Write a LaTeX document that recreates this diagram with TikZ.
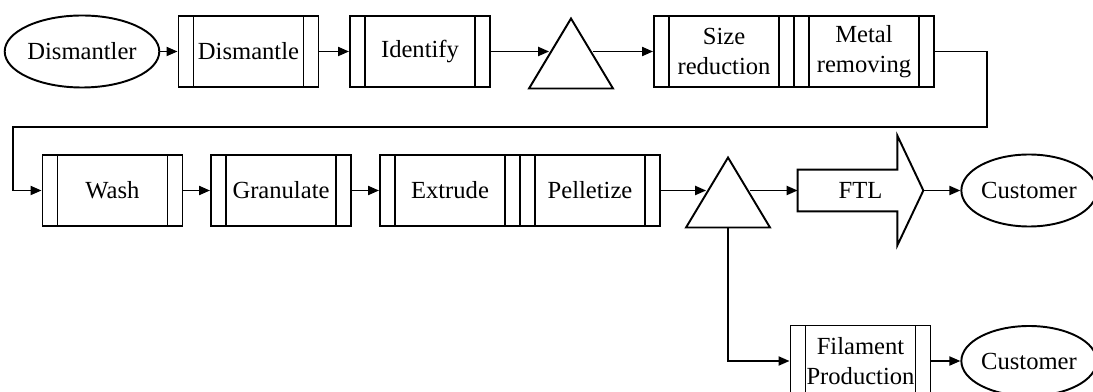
\documentclass[tikz,border=0pt]{standalone}
\usepackage{fontspec}
\setmainfont{Liberation Serif}
\usetikzlibrary{shapes.geometric,arrows.meta}

\tikzset{
  procbox/.style={draw, line width=1.1pt, minimum width=28mm, minimum height=14.2mm, inner sep=0pt, align=center,
    path picture={\draw[line width=1.1pt]
      ([xshift=3mm]path picture bounding box.north west) -- ([xshift=3mm]path picture bounding box.south west)
      ([xshift=-3mm]path picture bounding box.north east) -- ([xshift=-3mm]path picture bounding box.south east);}},
  acteur/.style={draw, ellipse, line width=1.1pt, minimum width=28mm, minimum height=14.4mm, inner sep=0pt},
  stock/.style={draw, isosceles triangle, isosceles triangle stretches=true, shape border rotate=90,
    line width=1.1pt, minimum width=16.8mm, minimum height=14mm, inner sep=0pt, anchor=apex},
  fleche/.style={->, >={Triangle[length=2.2mm,width=1.8mm]}, line width=1.1pt}
}

\begin{document}
\begin{tikzpicture}[x=0.2mm, y=-0.2mm, font=\fontsize{14}{17}\selectfont]
            \useasboundingbox (0,0) rectangle (1093,392);

            % Ligne 1
            \node[acteur] (dismantler) at (82,51.5) {Dismantler};
            \node[procbox] (dismantle) at (248.5,51.5) {Dismantle};
            \node[procbox] (identify) at (420,51.5) {Identify};
            \node[stock] (tri1) at (571,16) {};
            \node[procbox] (size) at (724,51.5) {Size\\reduction};
            \node[procbox] (metal) at (864,51.5) {Metal\\removing};

            % Ligne 2
            \node[procbox] (wash) at (112.5,190.5) {Wash};
            \node[procbox] (granulate) at (281,190.5) {Granulate};
            \node[procbox] (extrude) at (450,190.5) {Extrude};
            \node[procbox] (pelletize) at (590,190.5) {Pelletize};
            \node[stock] (tri2) at (728,155) {};
            \node[minimum width=25mm, minimum height=8.2mm, inner sep=0pt] (ftl) at (860.5,190.5) {FTL};
            \node[acteur, minimum width=25.6mm] (cust1) at (1029,190.5) {Customer};

            % Ligne 3
            \node[procbox] (filament) at (860.5,361) {Filament\\Production};
            \node[acteur, minimum width=25.6mm, minimum height=14mm] (cust2) at (1029,361) {Customer};

            % Fleche FTL
            \draw[line width=1.1pt] (ftl.north west) -- ([xshift=-5.2mm]ftl.north east)
              -- ([xshift=-5.2mm,yshift=6.8mm]ftl.north east) -- (ftl.east)
              -- ([xshift=-5.2mm,yshift=-6.8mm]ftl.south east) -- ([xshift=-5.2mm]ftl.south east)
              -- (ftl.south west) -- cycle;

            % Retour de ligne
            \coordinate (coinD) at (987,127);
            \coordinate (coinG) at (13,127);

            % Connexions
            \draw[fleche] (dismantler) -- (dismantle);
            \draw[fleche] (dismantle) -- (identify);
            \draw[fleche] (identify) -- (identify -| tri1.left side);
            \draw[fleche] (tri1.right side |- size) -- (size);
            \draw[line width=1.1pt] (size) -- (metal);
            \draw[fleche] (metal.east) -| (coinD) -- (coinG) |- (wash.west);
            \draw[fleche] (wash) -- (granulate);
            \draw[fleche] (granulate) -- (extrude);
            \draw[fleche] (pelletize) -- (pelletize -| tri2.left side);
            \draw[fleche] (tri2.right side |- ftl.west) -- (ftl.west);
            \draw[fleche] (ftl.east) -- (cust1);
            \draw[fleche] (tri2.lower side) |- (filament.west);
            \draw[fleche] (filament) -- (cust2);

        \end{tikzpicture}
\end{document}
